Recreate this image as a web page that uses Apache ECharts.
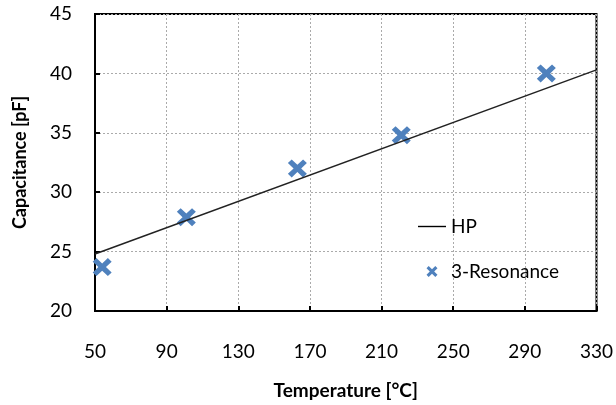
<!DOCTYPE html>
<html>
<head>
<meta charset="utf-8">
<script src="https://cdn.jsdelivr.net/npm/echarts@6/dist/echarts.min.js"></script>
<style type="text/css">
html, body { margin: 0; padding: 0; background: #fff; }
#chart { width: 616px; height: 405px; }
</style>
</head>
<body>
<div id="chart"></div>
<script type="text/javascript">
// measured points (3-Resonance)
var resTemp = [54, 101, 163, 221, 302];
var resCap = [23.7, 27.9, 32.0, 34.8, 40.0];
// HP line end points
var hpTemp = [50, 330];
var hpCap = [24.8, 40.3];

var xMin = 50, xMax = 330, xStep = 40;
var yMin = 20, yMax = 45, yStep = 5;

var fontName = 'Lato';
var xMark = 'path://M0,4 L4,0 L10,6 L16,0 L20,4 L14,10 L20,16 L16,20 L10,14 L4,20 L0,16 L6,10 Z';

function pairs(xs, ys) {
    var res = [];
    for (var i = 0; i < xs.length; i++) res.push([xs[i], ys[i]]);
    return res;
}

var myChart = echarts.init(document.getElementById('chart'));
var option = {
    animation: false,
    textStyle: { fontFamily: fontName },
    grid: {
        left: 95, right: 18, top: 14, bottom: 93,
        show: true, borderColor: '#000', borderWidth: 2
    },
    legend: {
        orient: 'vertical',
        left: 413, top: 212,
        itemGap: 26,
        itemWidth: 28, itemHeight: 11,
        textStyle: { fontFamily: fontName, fontSize: 19, color: '#000' },
        data: [
            { name: 'HP', icon: 'path://M0,5 L30,5 L30,6.5 L0,6.5 Z', itemStyle: { color: '#000' } },
            { name: '3-Resonance', icon: xMark }
        ]
    },
    xAxis: {
        type: 'value',
        min: xMin, max: xMax, interval: xStep,
        name: 'Temperature [°C]',
        nameLocation: 'middle',
        nameGap: 70,
        nameTextStyle: { fontFamily: fontName, fontSize: 19, fontWeight: 'bold', color: '#000' },
        axisLine: { show: true, onZero: false, lineStyle: { color: '#000', width: 2 } },
        axisTick: { show: true, inside: true, length: 5, lineStyle: { color: '#000', width: 2 } },
        axisLabel: { margin: 31, fontSize: 19, color: '#000', fontFamily: fontName },
        splitLine: { show: true, lineStyle: { color: '#aaa', type: [2, 2], width: 1 } }
    },
    yAxis: {
        type: 'value',
        min: yMin, max: yMax, interval: yStep,
        name: 'Capacitance [pF]',
        nameLocation: 'middle',
        nameGap: 66,
        nameTextStyle: { fontFamily: fontName, fontSize: 18, fontWeight: 'bold', color: '#000' },
        axisLine: { show: true, onZero: false, lineStyle: { color: '#000', width: 2 } },
        axisTick: { show: true, inside: true, length: 5, lineStyle: { color: '#000', width: 2 } },
        axisLabel: { margin: 23, fontSize: 19, color: '#000', fontFamily: fontName },
        splitLine: { show: true, lineStyle: { color: '#aaa', type: [2, 2], width: 1 } }
    },
    series: [
        {
            name: 'HP',
            type: 'line',
            symbol: 'none',
            data: pairs(hpTemp, hpCap),
            lineStyle: { color: '#222', width: 1.5 },
            itemStyle: { color: '#000' },
            z: 3
        },
        {
            name: '3-Resonance',
            type: 'scatter',
            symbol: xMark,
            symbolSize: [19, 18],
            data: pairs(resTemp, resCap),
            itemStyle: { color: '#4F81BD', opacity: 1 },
            z: 2
        }
    ]
};
myChart.setOption(option);
</script>
</body>
</html>
